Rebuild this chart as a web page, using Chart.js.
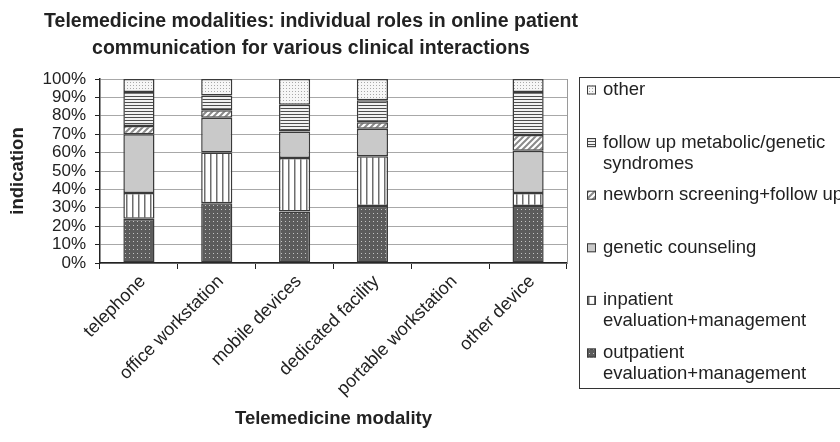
<!DOCTYPE html>
<html>
<head>
<meta charset="utf-8">
<title>Telemedicine modalities</title>
<script src="https://cdn.jsdelivr.net/npm/chart.js@4.4.1/dist/chart.umd.min.js"></script>
<style>
    html, body { margin: 0; padding: 0; background: #fff; }
    canvas { display: block; }
</style>
</head>
<body>
<canvas id="telemedicine_modalities" width="840" height="442"></canvas>
<script>
const modalities = ['telephone', 'office workstation', 'mobile devices', 'dedicated facility', 'portable workstation', 'other device'];

// share (%) of each indication per modality, stacked bottom to top
const outpatientValues = [24, 32.5, 28, 31, null, 31];
const inpatientValues = [14, 27.5, 29, 27, null, 7];
const counselingValues = [32, 19, 14.5, 15, null, 23];
const newbornValues = [4.5, 4, 0, 3.5, null, 8.5];
const followUpValues = [18.5, 8, 14.5, 12, null, 23.5];
const otherValues = [7, 9, 14, 11.5, null, 7];

const seriesNames = [
    'outpatient evaluation+management',
    'inpatient evaluation+management',
    'genetic counseling',
    'newborn screening+follow up',
    'follow up metabolic/genetic syndromes',
    'other'
];
// how the legend wraps each name
const legendLines = [
    ['outpatient', 'evaluation+management'],
    ['inpatient', 'evaluation+management'],
    ['genetic counseling'],
    ['newborn screening+follow up'],
    ['follow up metabolic/genetic', 'syndromes'],
    ['other']
];

const titleLines = ['Telemedicine modalities: individual roles in online patient', 'communication for various clinical interactions'];
const xTitle = 'Telemedicine modality';
const yTitle = 'indication';

const fontFamily = "'Liberation Sans', Arial, sans-serif";
const ctx = document.getElementById('telemedicine_modalities');
const ctx2d = ctx.getContext('2d');

function makePattern(w, h, paint) {
    const tile = document.createElement('canvas');
    tile.width = w;
    tile.height = h;
    paint(tile.getContext('2d'), w, h);
    return ctx2d.createPattern(tile, 'repeat');
}

const outpatientFill = makePattern(4, 4, (p, w, h) => {
    p.fillStyle = '#5c5c5c';
    p.fillRect(0, 0, w, h);
    p.fillStyle = '#c4c4c4';
    p.fillRect(1, 1, 1, 1);
});
const inpatientFill = makePattern(6, 6, (p, w, h) => {
    p.fillStyle = '#ffffff';
    p.fillRect(0, 0, w, h);
    p.fillStyle = '#6e6e6e';
    p.fillRect(0, 0, 1.5, h);
});
const counselingFill = '#c9c9c9';
const newbornFill = makePattern(6, 6, (p, w, h) => {
    p.fillStyle = '#ffffff';
    p.fillRect(0, 0, w, h);
    p.strokeStyle = '#8a8a8a';
    p.lineWidth = 2;
    p.beginPath();
    p.moveTo(-1, h + 1); p.lineTo(w + 1, -1);
    p.moveTo(-1, 1); p.lineTo(1, -1);
    p.moveTo(w - 1, h + 1); p.lineTo(w + 1, h - 1);
    p.stroke();
});
const followUpFill = makePattern(3, 3, (p, w, h) => {
    p.fillStyle = '#f2f2f2';
    p.fillRect(0, 0, w, h);
    p.fillStyle = '#4e4e4e';
    p.fillRect(0, 0, w, 1);
});
const otherFill = makePattern(3, 3, (p, w, h) => {
    p.fillStyle = '#f6f6f6';
    p.fillRect(0, 0, w, h);
    p.fillStyle = '#a8a8a8';
    p.fillRect(1, 1, 1, 1);
});

const seriesValues = [outpatientValues, inpatientValues, counselingValues, newbornValues, followUpValues, otherValues];
const seriesFills = [outpatientFill, inpatientFill, counselingFill, newbornFill, followUpFill, otherFill];

let myDataSet = [];
for (let i = 0; i < seriesNames.length; i++) {
    myDataSet.push({
        label: seriesNames[i],
        data: seriesValues[i],
        backgroundColor: seriesFills[i],
        borderColor: '#3a3a3a',
        borderWidth: 1.5,
        borderSkipped: false,
        barPercentage: 0.4,
        categoryPercentage: 1.0
    });
}

// right edge of the plot frame
const plotFrame = {
    id: 'plotFrame',
    beforeDatasetsDraw(chart) {
        const a = chart.chartArea;
        const c = chart.ctx;
        c.save();
        c.strokeStyle = '#9a9a9a';
        c.lineWidth = 1;
        c.beginPath();
        c.moveTo(a.right + 0.5, a.top);
        c.lineTo(a.right + 0.5, a.bottom);
        c.stroke();
        c.restore();
    }
};

// the two-line title is wider than the plot, so it is placed by hand
const chartTitle = {
    id: 'chartTitle',
    afterDraw(chart) {
        const c = chart.ctx;
        c.save();
        c.fillStyle = '#222222';
        c.textAlign = 'center';
        c.textBaseline = 'middle';
        c.font = 'bold 19.5px ' + fontFamily;
        c.fillText(titleLines[0], 311, 22);
        c.fillText(titleLines[1], 311, 49);
        c.restore();
    }
};

// boxed legend on the right, top item = top of the stack
const sideLegend = {
    id: 'sideLegend',
    afterDraw(chart) {
        const c = chart.ctx;
        const left = chart.chartArea.right + 12;
        const top = 77;
        c.save();
        c.fillStyle = '#ffffff';
        c.fillRect(left, top, 300, 311);
        c.strokeStyle = '#333333';
        c.lineWidth = 1;
        c.strokeRect(left + 0.5, top + 0.5, 300, 311);
        c.font = '18.5px ' + fontFamily;
        c.textBaseline = 'middle';
        c.textAlign = 'left';
        const sets = chart.data.datasets;
        for (let k = 0; k < sets.length; k++) {
            const idx = sets.length - 1 - k;
            const y = top + 13 + k * 52.6;
            c.fillStyle = sets[idx].backgroundColor;
            c.fillRect(left + 8, y - 4.5, 9, 9);
            c.strokeStyle = '#3a3a3a';
            c.strokeRect(left + 8.5, y - 4, 8, 8);
            c.fillStyle = '#222222';
            const lines = legendLines[idx];
            for (let j = 0; j < lines.length; j++) {
                c.fillText(lines[j], left + 24, y + j * 21);
            }
        }
        c.restore();
    }
};

new Chart(ctx, {
    type: 'bar',
    data: {
        labels: modalities,
        datasets: myDataSet
    },
    options: {
        responsive: false,
        animation: false,
        devicePixelRatio: 1,
        layout: {
            padding: { left: 0, right: 273, top: 79, bottom: 0 }
        },
        plugins: {
            legend: { display: false },
            tooltip: { enabled: false },
            title: { display: false }
        },
        scales: {
            x: {
                stacked: true,
                afterFit: (scale) => { scale.height = 179; },
                grid: {
                    offset: true,
                    drawOnChartArea: false,
                    drawTicks: true,
                    tickLength: 6,
                    tickColor: '#222222'
                },
                border: { color: '#222222', width: 1.5 },
                ticks: {
                    autoSkip: false,
                    maxRotation: 45,
                    minRotation: 45,
                    labelOffset: 4,
                    color: '#222222',
                    padding: 2,
                    font: { family: fontFamily, size: 18 }
                },
                title: {
                    display: true,
                    text: xTitle,
                    color: '#222222',
                    font: { family: fontFamily, size: 18.5, weight: 'bold' },
                    padding: { bottom: 12 }
                }
            },
            y: {
                stacked: true,
                min: 0,
                max: 100,
                afterFit: (scale) => { scale.width = 100; },
                grid: {
                    color: '#a8a8a8',
                    lineWidth: 1,
                    tickLength: 5,
                    tickColor: '#222222'
                },
                border: { color: '#222222', width: 1.5 },
                ticks: {
                    stepSize: 10,
                    autoSkip: false,
                    color: '#222222',
                    padding: 9,
                    font: { family: fontFamily, size: 17 },
                    callback: (v) => v + '%'
                },
                title: {
                    display: true,
                    text: yTitle,
                    color: '#222222',
                    font: { family: fontFamily, size: 18.5, weight: 'bold' },
                    padding: { top: 7 }
                }
            }
        }
    },
    plugins: [plotFrame, chartTitle, sideLegend]
});
</script>
</body>
</html>
